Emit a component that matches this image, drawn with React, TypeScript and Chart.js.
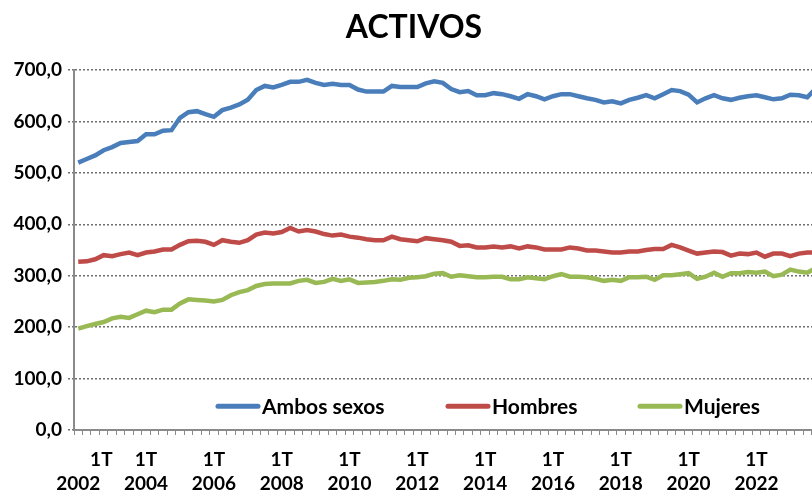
import React, { useEffect, useRef } from "react";
import { Chart, registerables } from "chart.js";

Chart.register(...registerables);

const TITLE = "ACTIVOS";
const QUARTERS = ["1T", "2T", "3T", "4T"];
const FIRST_YEAR = 2002;
const LAST_YEAR = 2023;
const Y_TICKS = [0, 100, 200, 300, 400, 500, 600, 700];

const SERIES_NAMES = ["Ambos sexos", "Hombres", "Mujeres"];

const ambosSexos = [
  520, 527, 534, 544, 550, 558, 560, 562, 575, 575,
  582, 583, 607, 618, 620, 614, 609, 622, 627, 633,
  642, 661, 669, 666, 671, 677, 677, 681, 675, 671,
  673, 671, 671, 662, 658, 658, 658, 669, 667, 667,
  667, 674, 678, 675, 663, 657, 659, 651, 651, 655,
  653, 649, 644, 653, 649, 643, 649, 653, 653, 649,
  645, 642, 637, 639, 635, 642, 646, 651, 645, 653,
  661, 659, 652, 637, 645, 651, 645, 642, 646, 649,
  651, 647, 643, 645, 652, 651, 647, 664,
];

const hombres = [
  327, 328, 332, 340, 338, 342, 345, 340, 345, 347,
  351, 351, 360, 367, 368, 366, 360, 369, 366, 364,
  369, 380, 384, 382, 385, 393, 386, 389, 386, 381,
  378, 380, 376, 374, 371, 369, 369, 376, 371, 369,
  367, 373, 371, 369, 366, 358, 359, 355, 355, 357,
  355, 357, 353, 357, 355, 351, 351, 351, 355, 353,
  349, 349, 347, 345, 345, 347, 347, 350, 352, 352,
  360, 355, 349, 343, 345, 347, 346, 339, 343, 342,
  345, 337, 343, 343, 338, 343, 345, 345,
];

const mujeres = [
  197, 202, 206, 210, 217, 220, 218, 225, 232, 229,
  234, 234, 246, 254, 253, 252, 250, 253, 262, 268,
  272, 280, 284, 285, 285, 285, 290, 292, 286, 288,
  294, 290, 293, 286, 287, 288, 290, 293, 292, 296,
  297, 299, 304, 305, 298, 301, 299, 297, 297, 298,
  298, 293, 293, 297, 295, 293, 299, 303, 298, 298,
  297, 294, 290, 292, 290, 297, 297, 298, 292, 301,
  301, 303, 305, 294, 298, 306, 298, 305, 305, 307,
  306, 308, 299, 302, 312, 308, 306, 315,
];

const COLORS = ["#4a7ebb", "#be4b48", "#98b954"];

const categories: string[] = [];
for (let y = FIRST_YEAR; y <= LAST_YEAR; y++) {
  for (const q of QUARTERS) categories.push(q + " " + y);
}

const FONT = "Lato, 'Open Sans', sans-serif";

const fmt = (v: number) => v.toFixed(1).replace(".", ",");

const legendPlugin = {
  id: "inlineLegend",
  afterDatasetsDraw(chart: any) {
    const { ctx, chartArea } = chart;
    const y = chart.scales.y.getPixelForValue(46);
    const starts = [144, 374, 566];
    ctx.save();
    ctx.font = `bold 21px ${FONT}`;
    ctx.textBaseline = "middle";
    ctx.textAlign = "left";
    chart.data.datasets.forEach((ds: any, i: number) => {
      const x0 = chartArea.left + starts[i];
      ctx.strokeStyle = ds.borderColor;
      ctx.lineWidth = 5;
      ctx.lineCap = "round";
      ctx.beginPath();
      ctx.moveTo(x0, y);
      ctx.lineTo(x0 + 40, y);
      ctx.stroke();
      ctx.fillStyle = "#000";
      ctx.fillText(ds.label, x0 + 44, y + 1);
    });
    ctx.restore();
  },
};

export default function App() {
  const ref = useRef<HTMLCanvasElement>(null);

  useEffect(() => {
    if (!ref.current) return;
    const seriesData = [ambosSexos, hombres, mujeres];
    const chart = new Chart(ref.current, {
      type: "line",
      data: {
        labels: categories,
        datasets: SERIES_NAMES.map((name, i) => ({
          label: name,
          data: seriesData[i],
          borderColor: COLORS[i],
          backgroundColor: COLORS[i],
          borderWidth: 4.5,
          pointRadius: 0,
          tension: 0,
          fill: false,
        })),
      },
      options: {
        animation: false,
        responsive: false,
        layout: { padding: { left: 8, right: 12, top: 0, bottom: 0 } },
        plugins: {
          legend: { display: false },
          tooltip: { enabled: false },
          title: {
            display: true,
            text: TITLE,
            color: "#000",
            font: { family: FONT, size: 32, weight: "bold", lineHeight: 1.2 },
            padding: { top: 8, bottom: 23.6 },
          },
        },
        scales: {
          x: {
            type: "category",
            offset: true,
            afterFit: (s: any) => {
              s.height = 63;
            },
            border: { display: true, color: "#8a8a8a", width: 2 },
            grid: {
              display: true,
              offset: true,
              drawOnChartArea: false,
              drawTicks: true,
              tickLength: 5,
              color: "#8a8a8a",
              lineWidth: 1,
            },
            ticks: {
              autoSkip: false,
              maxRotation: 0,
              minRotation: 0,
              padding: 13,
              color: "#000",
              font: { family: FONT, size: 19, weight: "bold", lineHeight: 1.25 },
              callback: (_v: any, index: number) => {
                const lab = categories[index];
                const [q, yr] = lab.split(" ");
                const year = parseInt(yr, 10);
                if (q === "1T" && (year - FIRST_YEAR) % 2 === 0) {
                  return index === 0 ? ["          " + q, yr] : [q, yr];
                }
                return "";
              },
            },
          },
          y: {
            min: 0,
            max: 700,
            afterFit: (s: any) => {
              s.width = 66;
            },
            afterBuildTicks: (s: any) => {
              s.ticks = Y_TICKS.map((v) => ({ value: v }));
            },
            border: { display: true, color: "#8a8a8a", width: 2, dash: [2, 2] },
            grid: {
              display: true,
              color: "#6f6f6f",
              lineWidth: 1.5,
              tickLength: 6,
              tickBorderDash: [2, 2],
            },
            ticks: {
              padding: 6,
              color: "#000",
              font: { family: FONT, size: 19, weight: "bold" },
              callback: (v: any) => fmt(Number(v)),
            },
          },
        },
      },
      plugins: [legendPlugin],
    } as any);
    return () => chart.destroy();
  }, []);

  return (
    <div
      style={{
        position: "fixed",
        left: 0,
        top: 0,
        width: 812,
        height: 493,
        overflow: "hidden",
        background: "#fff",
      }}
    >
      <canvas ref={ref} width={832} height={493} style={{ display: "block" }} />
    </div>
  );
}
